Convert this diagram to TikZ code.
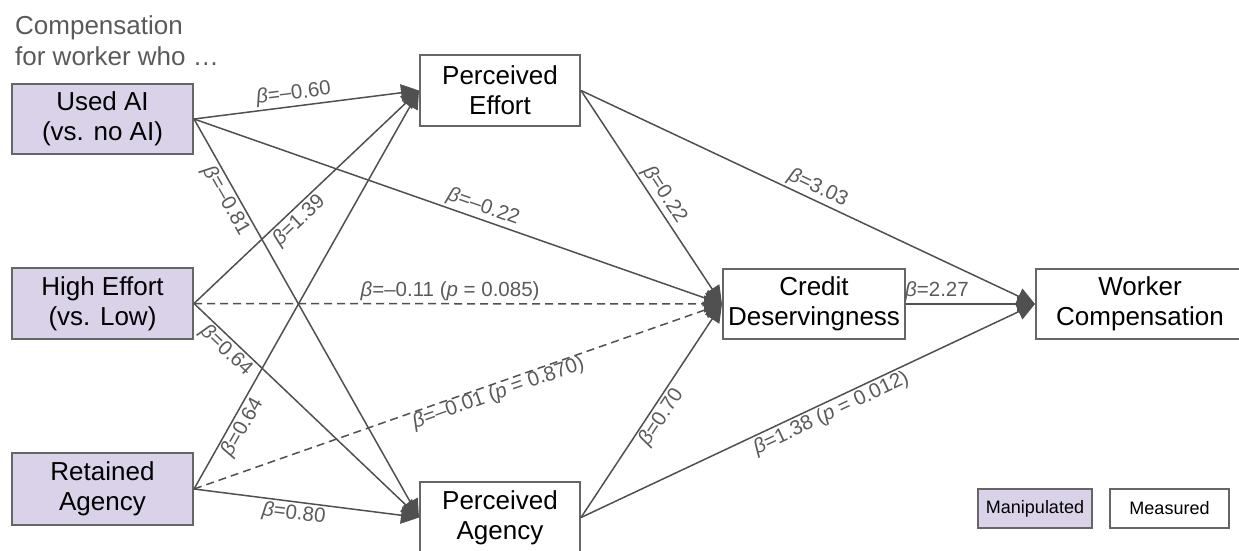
\documentclass[tikz,border=0pt]{standalone}
\usepackage{fontspec}
\setmainfont{Liberation Sans}
\usetikzlibrary{arrows.meta, positioning, calc}
\definecolor{manipfill}{HTML}{D9D2E9}
\definecolor{boxline}{HTML}{666666}
\definecolor{linkgray}{HTML}{505050}
\definecolor{labelgray}{HTML}{5A5A5A}

\begin{document}
\begin{tikzpicture}[x=1pt, y=-1pt,
  box/.style={draw=boxline, line width=2pt, fill=white, align=center, inner sep=0pt, text=black, font=\fontsize{26}{30}\selectfont},
  manip/.style={box, fill=manipfill},
  link/.style={draw=linkgray, line width=1.5pt, -{Triangle[length=18pt, width=17pt, fill=linkgray]}},
  lbl/.style={sloped, inner sep=2pt, text=labelgray, font=\fontsize{20.5}{24}\selectfont}]
\useasboundingbox (0,0) rectangle (1239,551);
% Path model for worker compensation
\node[anchor=north west, align=left, inner sep=0pt, text=labelgray, font=\fontsize{26}{31}\selectfont] (title) at (15,15) {Compensation\\for worker who …};

\node[manip, minimum width=181pt, minimum height=70pt] (usedai) at (102.5,119) {Used AI\\(vs. no AI)};
\node[manip, minimum width=181pt, minimum height=71pt] (higheff) at (102.5,303.5) {High Effort\\(vs. Low)};
\node[manip, minimum width=181pt, minimum height=72pt] (retained) at (102.5,489) {Retained\\Agency};

\node[box, minimum width=160pt, minimum height=71pt] (peffort) at (500,90.5) {Perceived\\Effort};
\node[box, minimum width=160pt, minimum height=71pt] (pagency) at (500,517.5) {Perceived\\Agency};
\node[box, minimum width=182pt, minimum height=70pt] (credit) at (814,304) {Credit\\Deservingness};
\node[box, minimum width=208pt, minimum height=70pt] (worker) at (1140,304) {Worker\\Compensation};

\node[manip, minimum width=114pt, minimum height=39pt, font=\fontsize{18}{22}\selectfont] (legmanip) at (1035,508.5) {Manipulated};
\node[box, minimum width=119pt, minimum height=39pt, font=\fontsize{18}{22}\selectfont] (legmeas) at (1169.5,508.5) {Measured};

\draw[link] (usedai.east) -- node[lbl, pos=0.45, above] {\textit{β}=–0.60} (peffort.west);
\draw[link] (usedai.east) -- node[lbl, pos=0.19, below] {\textit{β}=–0.81} (pagency.west);
\draw[link] (usedai.east) -- node[lbl, pos=0.54, above] {\textit{β}=–0.22} (credit.west);

\draw[link] (higheff.east) -- node[lbl, pos=0.43, below] {\textit{β}=1.39} (peffort.west);
\draw[link, dash pattern=on 8pt off 5pt] (higheff.east) -- node[lbl, pos=0.485, above] {\textit{β}=–0.11 (\textit{p} = 0.085)} (credit.west);
\draw[link] (higheff.east) -- node[lbl, pos=0.18, below] {\textit{β}=0.64} (pagency.west);

\draw[link] (retained.east) -- node[lbl, pos=0.17, below] {\textit{β}=0.64} (peffort.west);
\draw[link, dash pattern=on 8pt off 5pt] (retained.east) -- node[lbl, pos=0.57, below, inner sep=0pt] {\textit{β}=–0.01 (\textit{p} = 0.870)} (credit.west);
\draw[link] (retained.east) -- node[lbl, pos=0.45, below] {\textit{β}=0.80} (pagency.west);

\draw[link] (peffort.east) -- node[lbl, pos=0.52, above] {\textit{β}=0.22} (credit.west);
\draw[link] (peffort.east) -- node[lbl, pos=0.51, above] {\textit{β}=3.03} (worker.west);
\draw[link] (pagency.east) -- node[lbl, pos=0.5, below] {\textit{β}=0.70} (credit.west);
\draw[link] (pagency.east) -- node[lbl, pos=0.54, below] {\textit{β}=1.38 (\textit{p} = 0.012)} (worker.west);
\draw[link] (credit.east) -- node[lbl, pos=0.24, above] {\textit{β}=2.27} (worker.west);
\end{tikzpicture}
\end{document}
